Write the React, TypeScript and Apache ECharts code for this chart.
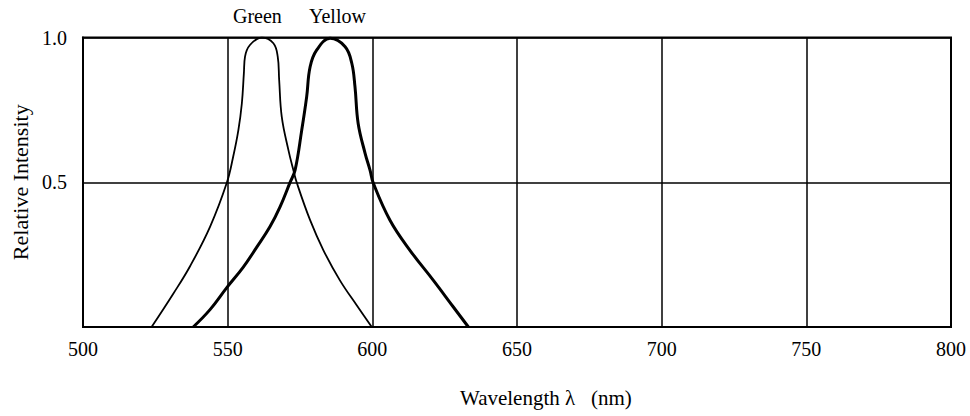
import React, { useEffect, useRef } from "react";
import * as echarts from "echarts";

const xTicks = [500, 550, 600, 650, 700, 750, 800];
const yTicks = [0, 0.5, 1.0];

const greenWavelength = [523.7, 531.2, 537.0, 543.9, 549.7, 551.9, 553.7, 554.9, 555.6, 556.0, 557.7, 561.8, 565.8, 567.3, 567.8, 568.7, 571.0, 572.7, 573.9, 578.5, 583.1, 588.8, 594.6, 599.8];
const greenIntensity = [0, 0.115, 0.21, 0.346, 0.498, 0.588, 0.68, 0.772, 0.876, 0.934, 0.974, 1.0, 0.98, 0.934, 0.853, 0.726, 0.611, 0.542, 0.498, 0.369, 0.265, 0.161, 0.075, 0];

const yellowWavelength = [538.1, 543.9, 549.7, 555.4, 560.0, 564.6, 568.1, 571.5, 573.3, 575.6, 577.3, 578.5, 580.8, 585.4, 590.6, 592.9, 594.0, 595.1, 597.5, 599.2, 600.3, 606.1, 613.0, 621.1, 628.0, 633.2];
const yellowIntensity = [0, 0.06, 0.136, 0.207, 0.275, 0.346, 0.415, 0.498, 0.542, 0.68, 0.795, 0.899, 0.957, 0.997, 0.968, 0.911, 0.83, 0.703, 0.6, 0.542, 0.498, 0.369, 0.265, 0.161, 0.069, 0];

const FONT = "'Liberation Serif', serif";

export default function App() {
  const ref = useRef<HTMLDivElement>(null);
  useEffect(() => {
    if (!ref.current) return;
    const chart = echarts.init(ref.current, undefined, { renderer: "svg" });
    const green = greenWavelength.map((x, i) => [x, greenIntensity[i]]);
    const yellow = yellowWavelength.map((x, i) => [x, yellowIntensity[i]]);
    chart.setOption({
      animation: false,
      backgroundColor: "#ffffff",
      grid: {
        left: 83,
        top: 37.5,
        right: 19,
        bottom: 89,
        containLabel: false,
        outerBoundsMode: "none",
        show: true,
        borderColor: "#000",
        borderWidth: 2,
      },
      xAxis: {
        type: "value",
        min: xTicks[0],
        max: xTicks[xTicks.length - 1],
        interval: 50,
        axisLine: { show: true, lineStyle: { color: "#000", width: 2 } },
        axisTick: { show: false },
        axisLabel: { fontFamily: FONT, fontSize: 20, color: "#000", margin: 12 },
        splitLine: { show: true, lineStyle: { color: "#000", width: 1.5 } },
      },
      yAxis: {
        type: "value",
        min: yTicks[0],
        max: yTicks[yTicks.length - 1],
        interval: 0.5,
        name: "Relative Intensity",
        nameLocation: "middle",
        nameGap: 50,
        nameTextStyle: { fontFamily: FONT, fontSize: 22, color: "#000" },
        axisLine: { show: true, lineStyle: { color: "#000", width: 2 } },
        axisTick: { show: false },
        axisLabel: {
          fontFamily: FONT,
          fontSize: 20,
          color: "#000",
          margin: 16,
          formatter: (v: number) => (v === 0 ? "" : v.toFixed(1)),
        },
        splitLine: { show: true, lineStyle: { color: "#000", width: 1.5 } },
      },
      graphic: [
        { type: "text", left: 233, top: 6, style: { text: "Green", font: `20px ${FONT}`, fill: "#000" } },
        { type: "text", left: 309, top: 6, style: { text: "Yellow", font: `20px ${FONT}`, fill: "#000" } },
        { type: "text", left: 460, top: 387, style: { text: "Wavelength λ   (nm)", font: `21px ${FONT}`, fill: "#000" } },
      ],
      series: [
        {
          type: "line",
          name: "Green",
          data: green,
          smooth: 0.4,
          showSymbol: false,
          lineStyle: { color: "#000", width: 1.8 },
        },
        {
          type: "line",
          name: "Yellow",
          data: yellow,
          smooth: 0.4,
          showSymbol: false,
          lineStyle: { color: "#000", width: 3 },
        },
      ],
    });
    return () => chart.dispose();
  }, []);
  return <div ref={ref} style={{ position: "absolute", left: 0, top: 0, width: 970, height: 416 }} />;
}
